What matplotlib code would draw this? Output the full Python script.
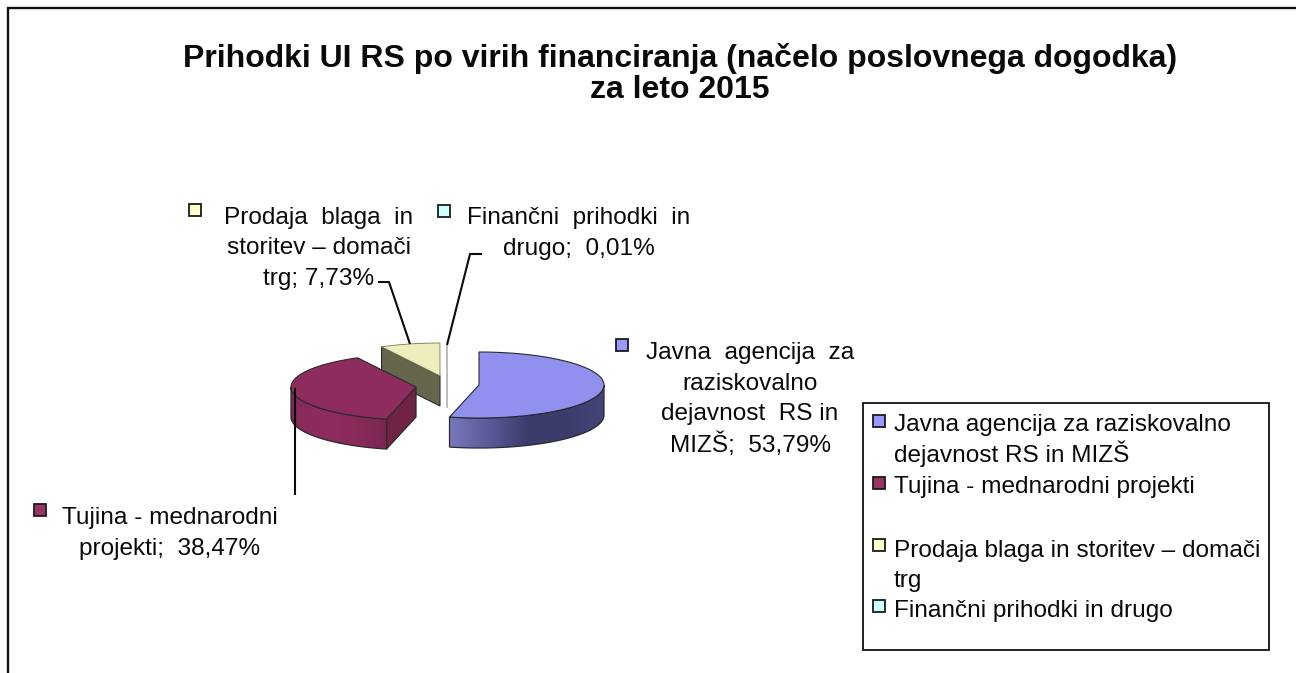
import numpy as np
import matplotlib
matplotlib.use("Agg")
import matplotlib.pyplot as plt
from matplotlib.patches import Polygon, Rectangle
from matplotlib.colors import LinearSegmentedColormap

plt.rcParams['font.family'] = ['Liberation Sans', 'DejaVu Sans']

TITLE = "Prihodki UI RS po virih financiranja (načelo poslovnega dogodka)\nza leto 2015"
categories = ["Javna agencija za raziskovalno dejavnost RS in MIZŠ",
              "Tujina - mednarodni projekti",
              "Prodaja blaga in storitev – domači trg",
              "Finančni prihodki in drugo"]
values = [53.79, 38.47, 7.73, 0.01]
top_colors = ["#9090EE", "#8F2C5E", "#EEEEBC", "#E8FBFB"]
swatch_colors = ["#9999FF", "#993366", "#FFFFCC", "#CCFFFF"]
label_lines = [["Javna  agencija  za", "raziskovalno", "dejavnost  RS in", "MIZŠ;  53,79%"],
               ["Tujina - mednarodni", "projekti;  38,47%"],
               ["Prodaja  blaga  in", "storitev – domači", "trg; 7,73%"],
               ["Finančni  prihodki  in", "drugo;  0,01%"]]
legend_lines = [["Javna agencija za raziskovalno", "dejavnost RS in MIZŠ"],
                ["Tujina - mednarodni projekti"],
                ["Prodaja blaga in storitev – domači", "trg"],
                ["Finančni prihodki in drugo"]]

# layout (pixels)
W, H = 1296, 673
RX, RY, DEPTH = 125, 33, 30
centers = [(479, 385), (416, 387), (440, 376), (447, 375)]

fig = plt.figure(figsize=(W / 100, H / 100), dpi=100, facecolor="white")
ax = fig.add_axes([0, 0, 1, 1])
ax.set_xlim(0, W)
ax.set_ylim(H, 0)
ax.axis("off")

# outer frame: only top and left are inside the crop
ax.plot([8, 8, W], [H, 7.5, 7.5], color="#111111", lw=1.7, solid_joinstyle="miter")

fs = 24.4 * 0.72
ax.text(680, 74, TITLE, ha="center", va="center", fontsize=23.0, fontweight="bold",
        color="#0a0a0a", linespacing=1.08)

# slice angles, clockwise from 12 o'clock
angles = 90 - np.cumsum([0] + values) * 3.6
EDGE = "#2a2a30"


def arc(c, a0, a1, n=80):
    t = np.radians(np.linspace(a0, a1, n))
    return np.column_stack([c[0] + RX * np.cos(t), c[1] + RY * np.sin(-t)])


def gradient_wall(c, a0, a1, stops):
    """Fill the extruded front rim between two angles with a horizontal gradient."""
    a = arc(c, a0, a1)
    low = a + [0, DEPTH]
    poly = np.vstack([a, low[::-1]])
    cmap = LinearSegmentedColormap.from_list("w", stops)
    x0, x1 = poly[:, 0].min(), poly[:, 0].max()
    y0, y1 = poly[:, 1].min(), poly[:, 1].max()
    im = ax.imshow(np.linspace(0, 1, 256)[None, :], cmap=cmap, aspect="auto",
                   extent=(x0, x1, y1, y0), zorder=3, interpolation="bilinear")
    clip = Polygon(poly, closed=True, transform=ax.transData, fc="none", ec="none")
    ax.add_patch(clip)
    im.set_clip_path(clip)
    ax.add_patch(Polygon(poly, closed=True, fc="none", ec=EDGE, lw=0.9, zorder=4))


def top_face(c, a0, a1, color):
    poly = np.vstack([[c], arc(c, a0, a1)])
    ax.add_patch(Polygon(poly, closed=True, fc=color, ec=EDGE, lw=0.8, zorder=5))
    return poly


# finance slice: a hairline seen edge-on
c = centers[3]
ax.plot([c[0], c[0]], [c[1] - RY + 2, c[1] + DEPTH + 2], color="#a9a9a9", lw=1.1, zorder=1)

# sales slice: cut face then top
c = centers[2]
outer = arc(c, angles[2], angles[3])[0]
wall = [outer, c, (c[0], c[1] + DEPTH), (outer[0], outer[1] + DEPTH)]
ax.add_patch(Polygon(wall, closed=True, fc="#66664C", ec=EDGE, lw=0.8, zorder=2))
ax.add_patch(Polygon(np.vstack([[c], arc(c, angles[2], angles[3])]), closed=True,
                     fc=top_colors[2], ec="#77775a", lw=0.6, zorder=2.5))

# foreign slice
c = centers[1]
inner = arc(c, angles[1], angles[2])[0]
wall = [c, inner, (inner[0], inner[1] + DEPTH), (c[0], c[1] + DEPTH)]
ax.add_patch(Polygon(wall, closed=True, fc="#702345", ec=EDGE, lw=0.9, zorder=3))
gradient_wall(c, -180, angles[1], ["#85295A", "#8F2C5E", "#8A2B5A", "#7A2650"])
top_face(c, angles[1], angles[2], top_colors[1])

# public agency slice
c = centers[0]
gradient_wall(c, angles[1], 0, ["#7878BC", "#5A5A98", "#3C3C6C", "#3C3C6C", "#444478"])
top_face(c, angles[0], angles[1], top_colors[0])

# leader lines
leaders = [([294.5, 294.5], [388, 495]),
           ([378, 389, 410], [282, 282, 344]),
           ([482, 470, 447], [254, 254, 345])]
for lx, ly in leaders:
    ax.plot(lx, ly, color="#0a0a0a", lw=1.5, zorder=6, solid_capstyle="butt")


def swatch(x, y, i, s=12):
    ax.add_patch(Rectangle((x, y), s, s, fc=swatch_colors[i], ec="#1a1a1a", lw=1.3, zorder=7))


LH = 30.5
# data labels: centre x, first-line centre y, swatch position
label_pos = [(750, 353, 616, 339), (170, 518, 34, 504), (319, 218, 189, 204), (579, 218, 438, 205)]
for lines, (cx, y0, sx, sy), i in zip(label_lines, label_pos, range(4)):
    swatch(sx, sy, i)
    for k, line in enumerate(lines):
        ax.text(cx, y0 + k * LH, line, ha="center", va="center", fontsize=fs, color="#0a0a0a", zorder=8)

# legend box
ax.add_patch(Rectangle((863, 403), 406, 247, fc="white", ec="#111111", lw=1.3, zorder=6))
leg_y = [[424.5, 453.5], [486.5], [550.5, 580.5], [611.5]]
leg_sw = [(873, 415), (873, 477), (873, 539), (873, 600)]
for i, lines in enumerate(legend_lines):
    swatch(leg_sw[i][0], leg_sw[i][1], i)
    for line, y in zip(lines, leg_y[i]):
        ax.text(894, y, line, ha="left", va="center", fontsize=fs, color="#0a0a0a", zorder=8)

fig.savefig("out.png", dpi=100, facecolor="white")
